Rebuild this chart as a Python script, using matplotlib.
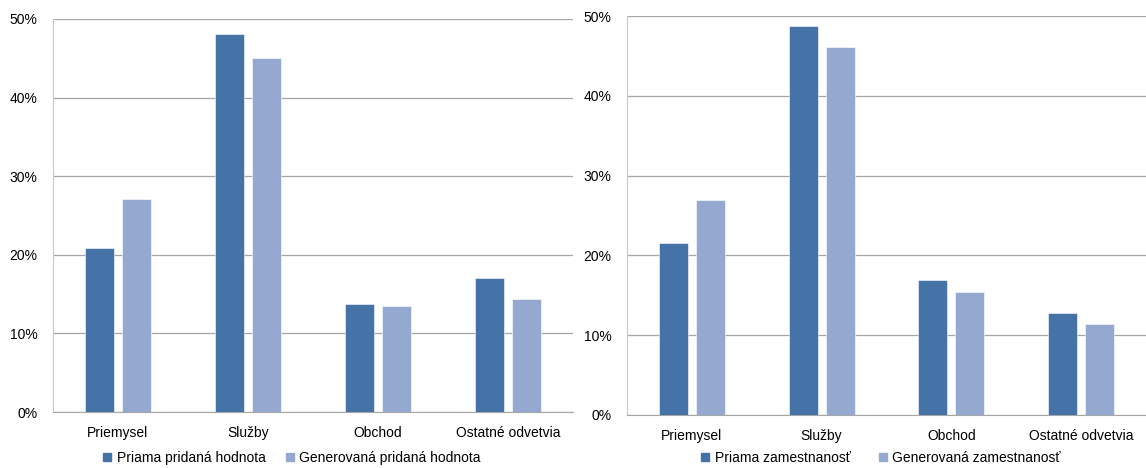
import matplotlib
matplotlib.use('Agg')
import matplotlib.pyplot as plt
import numpy as np
from matplotlib.lines import Line2D
from matplotlib.ticker import PercentFormatter

plt.rcParams['font.family'] = ['Liberation Sans', 'DejaVu Sans']
plt.rcParams['font.size'] = 10

categories = ['Priemysel', 'Služby', 'Obchod', 'Ostatné odvetvia']

# left: pridaná hodnota (value added)
priama_hodnota = [20.9, 48.1, 13.7, 17.0]
generovana_hodnota = [27.1, 45.0, 13.5, 14.4]
# right: zamestnanosť (employment)
priama_zam = [21.5, 48.7, 16.9, 12.8]
generovana_zam = [27.0, 46.1, 15.4, 11.4]

legend_left = ['Priama pridaná hodnota', 'Generovaná pridaná hodnota']
legend_right = ['Priama zamestnanosť', 'Generovaná zamestnanosť']
yticks = [0, 10, 20, 30, 40, 50]

DARK = '#4573A7'
LIGHT = '#95A9D0'
GRID = '#A6A6A6'

W, H = 1146, 468
fig = plt.figure(figsize=(W / 100, H / 100), dpi=100)


def px_axes(x0, y_top, x1, y_bot):
    return fig.add_axes([x0 / W, (H - y_bot) / H, (x1 - x0) / W, (y_bot - y_top) / H])


def draw_panel(ax, first, second, labels, legend_center, colspace):
    x = np.arange(len(categories))
    width = 0.223
    off = 0.142
    ax.bar(x - off, first, width, color=DARK, edgecolor='white', linewidth=0.4, zorder=3)
    ax.bar(x + off, second, width, color=LIGHT, edgecolor='white', linewidth=0.4, zorder=3)
    ax.set_xlim(-0.5, len(categories) - 0.5)
    ax.set_ylim(0, 50)
    ax.set_yticks(yticks)
    ax.yaxis.set_major_formatter(PercentFormatter(decimals=0))
    ax.set_xticks(x)
    ax.set_xticklabels(categories)
    ax.tick_params(axis='both', length=0, labelsize=10, colors='black')
    ax.tick_params(axis='y', pad=11)
    ax.tick_params(axis='x', pad=10)
    ax.yaxis.grid(True, color=GRID, linewidth=0.9, zorder=0)
    ax.set_axisbelow(True)
    for s in ['top', 'right']:
        ax.spines[s].set_visible(False)
    ax.spines['left'].set_color('#C8C8C8')
    ax.spines['bottom'].set_color(GRID)
    handles = [Line2D([], [], marker='s', linestyle='none', markersize=5.5, color=c)
               for c in (DARK, LIGHT)]
    fig.legend(handles, labels, loc='center',
               bbox_to_anchor=(legend_center / W, (H - 458) / H),
               ncol=2, frameon=False, handlelength=0.6, handletextpad=0.4,
               columnspacing=colspace, fontsize=10, borderpad=0)


ax1 = px_axes(53, 19, 573, 412)
draw_panel(ax1, priama_hodnota, generovana_hodnota, legend_left, 292, 1.4)

ax2 = px_axes(627, 16, 1146, 415)
draw_panel(ax2, priama_zam, generovana_zam, legend_right, 881, 2.0)

fig.savefig('out.png', dpi=100)
